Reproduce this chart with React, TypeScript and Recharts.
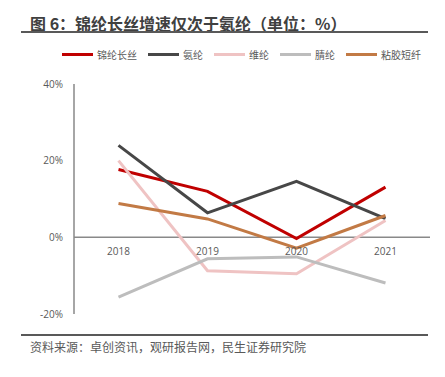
import { LineChart, Line, XAxis, YAxis, ReferenceLine, Legend } from 'recharts';

const years = ['2018', '2019', '2020', '2021'];
const nylonFilament = [17.7, 12.0, -0.3, 13.1];
const spandex = [24.0, 6.4, 14.6, 4.9];
const vinylon = [20.0, -8.7, -9.5, 4.4];
const acrylic = [-15.6, -5.6, -5.1, -11.9];
const viscose = [8.8, 4.8, -2.8, 5.7];
const yTicks = [-20, 0, 20, 40];

const series = [
  { key: 'nylon', name: '锦纶长丝', color: '#C00000', values: nylonFilament },
  { key: 'spandex', name: '氨纶', color: '#474747', values: spandex },
  { key: 'vinylon', name: '维纶', color: '#EFC3C3', values: vinylon },
  { key: 'acrylic', name: '腈纶', color: '#BDBDBD', values: acrylic },
  { key: 'viscose', name: '粘胶短纤', color: '#C27A45', values: viscose },
];

const data = years.map((year, i) => {
  const row: Record<string, string | number> = { year };
  series.forEach((s) => {
    row[s.key] = s.values[i];
  });
  return row;
});

const W = 445;
const H = 377;
const X_AXIS_H = 1;
const MARGIN = { top: 84, right: 15, bottom: 62, left: 34 };
const Y_MIN = -20;
const Y_MAX = 40;
const PLOT_H = H - MARGIN.top - MARGIN.bottom - X_AXIS_H;
// x labels sit just under the zero line, not at the plot bottom
const ZERO_Y = MARGIN.top + (PLOT_H * Y_MAX) / (Y_MAX - Y_MIN);

const FONT = '"Open Sans", "Noto Sans CJK SC", sans-serif';
const CJK = '"Noto Sans CJK SC", sans-serif';

const YearTick = (props: any) => {
  const { x, payload } = props;
  return (
    <text x={x} y={ZERO_Y + 18} textAnchor="middle" fontSize={10} fill="#595959" fontFamily={FONT}>
      {payload.value}
    </text>
  );
};

const renderLegend = () => (
  <div style={{ display: 'flex', alignItems: 'center', fontFamily: CJK, fontSize: 10, color: '#595959' }}>
    {series.map((s) => (
      <div key={s.key} style={{ display: 'flex', alignItems: 'center', marginRight: 11 }}>
        <div style={{ width: 31, height: 3, background: s.color, marginRight: 4 }} />
        <span>{s.name}</span>
      </div>
    ))}
  </div>
);

export default function App() {
  return (
    <div style={{ position: 'absolute', left: 0, top: 0, width: W, height: H, background: '#fff' }}>
      <div
        style={{
          position: 'absolute',
          left: 30,
          top: 12,
          fontFamily: CJK,
          fontWeight: 700,
          fontSize: 16,
          lineHeight: '22px',
          color: '#404040',
          whiteSpace: 'nowrap',
        }}
      >
        图 6：锦纶长丝增速仅次于氨纶（单位：%）
      </div>
      <div style={{ position: 'absolute', left: 21, top: 31, width: 407, height: 2, background: '#595959' }} />
      <div style={{ position: 'absolute', left: 21, top: 334, width: 407, height: 2, background: '#595959' }} />
      <div
        style={{
          position: 'absolute',
          left: 30,
          top: 339,
          fontFamily: CJK,
          fontSize: 12,
          lineHeight: '16px',
          color: '#595959',
          whiteSpace: 'nowrap',
        }}
      >
        资料来源：卓创资讯，观研报告网，民生证券研究院
      </div>
      <div style={{ position: 'absolute', left: 0, top: 0 }}>
        <LineChart width={W} height={H} data={data} margin={MARGIN}>
          <XAxis
            dataKey="year"
            scale="band"
            height={X_AXIS_H}
            axisLine={false}
            tickLine={false}
            tick={<YearTick />}
            interval={0}
          />
          <YAxis
            width={40}
            domain={[Y_MIN, Y_MAX]}
            ticks={yTicks}
            tickFormatter={(v: number) => `${v}%`}
            axisLine={{ stroke: '#898989', strokeWidth: 1.5 }}
            tickLine={false}
            tickSize={0}
            tickMargin={11}
            tick={{ fontSize: 10, fill: '#595959', fontFamily: FONT }}
          />
          <ReferenceLine y={0} stroke="#898989" strokeWidth={1.5} />
          <Legend
            layout="horizontal"
            verticalAlign="middle"
            align="center"
            wrapperStyle={{ top: 47, left: 62, width: 'auto' }}
            content={renderLegend}
          />
          {series.map((s) => (
            <Line
              key={s.key}
              type="linear"
              dataKey={s.key}
              name={s.name}
              stroke={s.color}
              strokeWidth={3}
              dot={false}
              isAnimationActive={false}
            />
          ))}
        </LineChart>
      </div>
    </div>
  );
}
